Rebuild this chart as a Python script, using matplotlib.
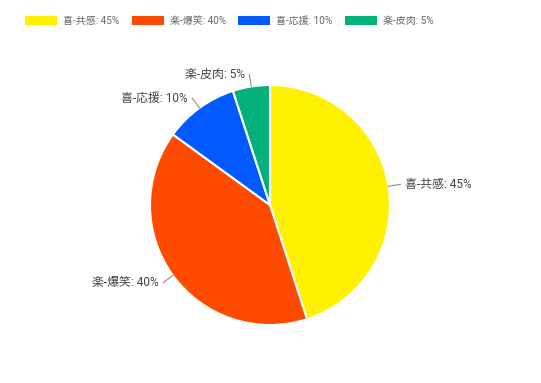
import numpy as np
import matplotlib.pyplot as plt

plt.rcParams['font.family'] = ['Roboto', 'Noto Sans CJK JP', 'DejaVu Sans']

labels = ['喜-共感', '楽-爆笑', '喜-応援', '楽-皮肉']
values = [45, 40, 10, 5]
colors = ['#FFF100', '#FF4B00', '#005AFF', '#03AF7A']

W, H = 541, 383
fig = plt.figure(figsize=(W / 100, H / 100), dpi=100)

# pie centre at (270, 205) px from top, radius ~117 px
cx, cy, half = 270, H - 205, 150
ax = fig.add_axes([(cx - half) / W, (cy - half) / H, 2 * half / W, 2 * half / H])
lim = half / 117
ax.set_xlim(-lim, lim)
ax.set_ylim(-lim, lim)
ax.axis('off')

wedges, _ = ax.pie(values, colors=colors, startangle=90, counterclock=False,
                   radius=1.0, wedgeprops=dict(edgecolor='white', linewidth=1.5))

for w, lab, v in zip(wedges, labels, values):
    mid = np.deg2rad((w.theta1 + w.theta2) / 2)
    c, s = np.cos(mid), np.sin(mid)
    ax.plot([c * 1.0, c * 1.1], [s * 1.0, s * 1.1], color='#999999', lw=0.9)
    ha = 'left' if c >= 0 else 'right'
    off = 0.04 if c >= 0 else -0.04
    ax.text(c * 1.1 + off, s * 1.1, f'{lab}: {v}%', ha=ha, va='center',
            fontsize=8.6, color='#444444')

leg = fig.legend(wedges, [f'{l}: {v}%' for l, v in zip(labels, values)],
                 loc='center left', bbox_to_anchor=(16 / W, 1 - 21 / H), ncol=4,
                 frameon=False, fontsize=7.2, handlelength=3.2, handleheight=0.9,
                 handletextpad=0.6, columnspacing=1.25, labelcolor='#666666')
for h in leg.legend_handles:
    h.set_edgecolor('none')

fig.savefig('out.png', dpi=100)
